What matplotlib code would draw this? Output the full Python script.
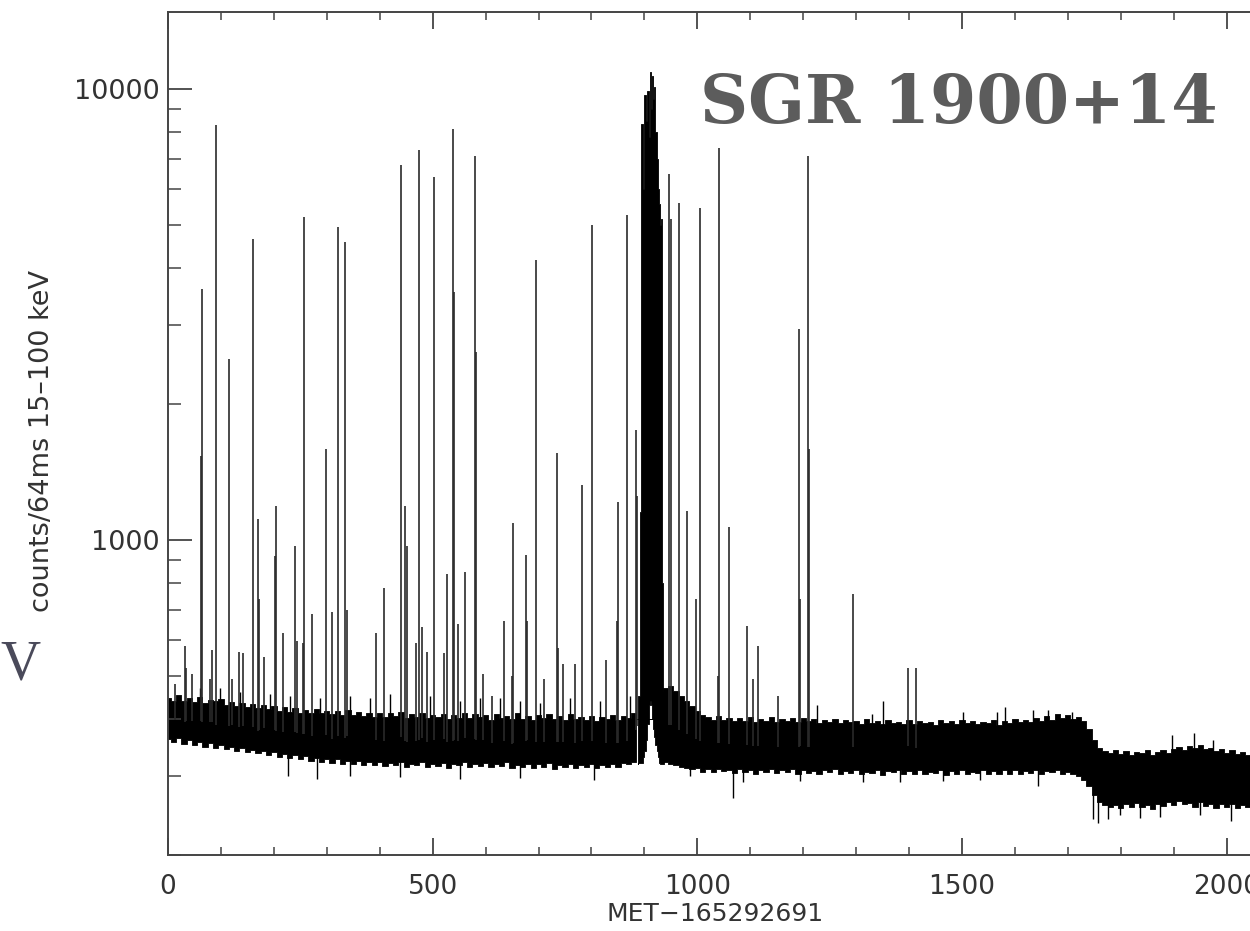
import numpy as np
import matplotlib
matplotlib.use('Agg')
import matplotlib.pyplot as plt
from matplotlib.ticker import FixedLocator, NullFormatter, FixedFormatter

# ---------------- data ----------------
band_t = list(range(0, 2101, 10))
band_hi = [445, 438, 452, 440, 446, 436, 448, 434, 442, 438, 444, 430, 437, 428, 435, 426, 433, 424, 430, 421,
           427, 418, 425, 416, 423, 414, 420, 412, 422, 413, 418, 410, 417, 409, 420, 408, 415, 406, 414, 405,
           412, 404, 414, 406, 416, 403, 411, 405, 413, 402, 409, 404, 411, 400, 408, 403, 414, 402, 410, 404,
           408, 399, 410, 402, 407, 400, 412, 401, 406, 398, 409, 403, 411, 400, 407, 399, 410, 401, 405, 398,
           406, 397, 404, 400, 409, 398, 406, 402, 414, 400, 400, 400, 400, 400, 470, 475, 462, 450, 440, 428,
           418, 408, 404, 398, 406, 399, 403, 396, 402, 397, 405, 395, 401, 396, 404, 394, 400, 397, 403, 395,
           402, 396, 400, 393, 398, 395, 401, 392, 399, 394, 397, 391, 400, 393, 396, 390, 398, 392, 395, 390,
           399, 391, 397, 393, 395, 389, 398, 392, 396, 390, 399, 393, 397, 390, 395, 392, 398, 389, 396, 393,
           400, 394, 398, 395, 403, 397, 406, 399, 410, 402, 408, 400, 404, 396, 380, 360, 345, 340, 336, 342,
           335, 340, 333, 339, 336, 342, 334, 338, 341, 336, 344, 347, 342, 349, 345, 350, 343, 346, 340, 344,
           337, 341, 335, 339, 333, 338, 335, 340, 334, 337, 336]
band_lo = [362, 356, 364, 352, 360, 350, 356, 348, 354, 345, 350, 344, 348, 340, 345, 338, 342, 336, 340, 334,
           338, 330, 335, 328, 333, 326, 331, 324, 329, 322, 327, 320, 326, 319, 324, 318, 323, 317, 322, 316,
           321, 315, 320, 317, 322, 314, 319, 316, 321, 313, 318, 315, 320, 312, 318, 316, 321, 313, 319, 315,
           320, 313, 318, 315, 321, 312, 317, 314, 319, 312, 318, 314, 320, 311, 316, 313, 319, 312, 317, 314,
           318, 312, 316, 313, 319, 314, 320, 318, 322, 400, 400, 400, 400, 400, 322, 318, 316, 314, 312, 310,
           312, 306, 310, 305, 311, 307, 309, 304, 310, 306, 308, 303, 309, 305, 311, 304, 308, 306, 310, 303,
           309, 304, 307, 302, 308, 305, 310, 303, 307, 304, 309, 302, 306, 304, 308, 301, 307, 305, 309, 302,
           307, 303, 309, 302, 306, 304, 308, 301, 307, 303, 309, 302, 306, 304, 308, 302, 307, 303, 309, 302,
           308, 303, 307, 304, 309, 302, 307, 305, 308, 303, 306, 302, 300, 294, 285, 272, 262, 258, 255, 258,
           254, 259, 256, 261, 255, 258, 253, 260, 257, 262, 258, 263, 259, 261, 256, 262, 257, 260, 254, 259,
           256, 260, 254, 258, 255, 259, 253, 257, 255, 258, 256]

burst_t = [887, 890, 892, 895, 898, 901, 904, 907, 910, 912, 914, 916,
           918, 920, 922, 924, 927, 929, 931, 933, 935, 937]
burst_hi = [420, 450, 1150, 8370, 6000, 9700, 8500, 9900, 7830, 10900, 9000,
            10700, 9500, 10100, 8000, 7000, 6000, 5560, 5000, 5150, 800, 460]
burst_lo = [318, 320, 320, 320, 330, 340, 360, 390, 430, 440, 430, 400,
            380, 365, 350, 340, 330, 320, 318, 318, 318, 318]

spike_t = [13, 32, 34, 45, 62, 64, 79, 83, 91, 115, 121, 134, 142, 161,
           170, 172, 181, 202, 204, 217, 240, 244, 255, 257, 272, 298,
           310, 321, 334, 338, 393, 408, 440, 448, 451, 468, 474, 480,
           489, 502, 521, 527, 538, 540, 548, 561, 580, 582, 595, 612,
           635, 650, 652, 676, 678, 695, 710, 735, 737, 746, 769, 782,
           801, 827, 848, 850, 867, 884, 886, 946, 950, 965, 980, 997,
           1005, 1039, 1041, 1060, 1094, 1105, 1115, 1152, 1192, 1194,
           1209, 1211, 1294, 1398, 1413]
spike_peak = [480, 582, 520, 505, 1530, 3600, 490, 570, 8300, 2520, 490,
              565, 560, 4640, 1110, 740, 550, 920, 1190, 620, 970, 595,
              590, 5200, 685, 1590, 690, 4940, 4580, 700, 620, 780, 6780,
              1190, 970, 590, 7320, 640, 565, 6380, 560, 840, 8150, 3540,
              650, 850, 7100, 2610, 505, 450, 660, 500, 1090, 923, 660,
              4180, 490, 1560, 575, 530, 530, 1320, 4990, 540, 660, 1210,
              5260, 1750, 1250, 6480, 5150, 5580, 1160, 740, 5440, 500,
              7400, 1070, 645, 490, 580, 450, 2940, 740, 7100, 1590, 760,
              520, 520]

whisk_up_t = [60, 98, 136, 193, 230, 287, 344, 382, 419, 495, 552, 589,
              627, 665, 703, 759, 816, 873, 1226, 1330, 1351, 1502, 1566,
              1581, 1634, 1662, 1708, 1897, 1938, 1974]
whisk_up_v = [470, 470, 460, 455, 450, 445, 450, 445, 455, 450, 440, 445,
              445, 440, 435, 445, 440, 450, 430, 410, 440, 415, 415,
              425, 420, 420, 415, 370, 372, 360]
whisk_dn_t = [227, 281, 344, 438, 552, 665, 805, 986, 1067, 1086, 1194,
              1313, 1383, 1464, 1534, 1643, 1747, 1757, 1776, 1798, 1836,
              1874, 1949, 2008]
whisk_dn_v = [300, 295, 300, 298, 295, 297, 293, 300, 267, 290, 292,
              290, 290, 292, 293, 285, 240, 236, 240, 245, 242,
              243, 245, 238]

x_major = [0, 500, 1000, 1500, 2000]
x_labels = ['0', '500', '1000', '1500', '2000']
y_major = [1000, 10000]
y_labels = ['1000', '10000']

# ---------------- figure ----------------
W, H = 1250, 931
fig = plt.figure(figsize=(W / 100, H / 100), dpi=100)
left, bottom, top = 168 / W, 1 - 855 / H, 1 - 12 / H
ax = fig.add_axes([left, bottom, 1.03 - left, top - bottom])
ax.set_yscale('log')
ax.set_xlim(0, 2115)
ax.set_ylim(200, 14800)

bt = np.array(band_t, float)
bh = np.array(band_hi, float)
bl = np.array(band_lo, float)
mid = np.sqrt(bh * bl)

# background band
ax.fill_between(bt, bl, bh, step='mid', color='black', lw=0.6, edgecolor='black')
# whiskers
ax.vlines(whisk_up_t, np.interp(whisk_up_t, bt, mid), whisk_up_v, color='black', lw=1.0)
ax.vlines(whisk_dn_t, whisk_dn_v, np.interp(whisk_dn_t, bt, mid), color='black', lw=1.0)
# main burst
ax.fill_between(burst_t, burst_lo, burst_hi, step='mid', color='black', lw=0.6, edgecolor='black')
# short bursts
ax.vlines(spike_t, np.interp(spike_t, bt, mid), spike_peak, color='#2a2a2a', lw=1.2)

# axes styling
for s in ['left', 'bottom', 'top']:
    ax.spines[s].set_color('#444444')
    ax.spines[s].set_linewidth(1.4)
ax.spines['right'].set_visible(False)

ax.xaxis.set_major_locator(FixedLocator(x_major))
ax.xaxis.set_major_formatter(FixedFormatter(x_labels))
ax.xaxis.set_minor_locator(FixedLocator(list(range(0, 2101, 100))))
ax.yaxis.set_major_locator(FixedLocator(y_major))
ax.yaxis.set_major_formatter(FixedFormatter(y_labels))
ax.yaxis.set_minor_locator(FixedLocator([k * 100 for k in range(2, 10)] + [k * 1000 for k in range(2, 10)]))
ax.yaxis.set_minor_formatter(NullFormatter())

ax.tick_params(axis='x', which='major', direction='in', length=12, width=1.3, color='#444444',
               top=True, pad=14, labelsize=19, labelcolor='#333333')
ax.tick_params(axis='x', which='minor', direction='in', length=6, width=1.1, color='#444444', top=True)
ax.tick_params(axis='y', which='major', direction='in', length=17, width=1.3, color='#444444',
               right=False, pad=6, labelsize=19.5, labelcolor='#333333')
ax.tick_params(axis='y', which='minor', direction='in', length=9, width=1.1, color='#444444', right=False)

fig.text(715 / W, 1 - 914 / H, 'MET\u2212165292691', ha='center', va='center',
         fontsize=18, color='#333333')
fig.text(42 / W, 1 - 441 / H, 'counts/64ms 15\u2013100 keV', ha='center', va='center',
         rotation=90, fontsize=19.5, color='#333333')

fig.text(700 / W, 1 - 123 / H, 'SGR 1900+14', ha='left', va='baseline',
         fontsize=48, fontweight='bold', color='#5c5c5c',
         family=['DejaVu Serif'])
fig.text(0 / W, 1 - 680 / H, 'V', ha='left', va='baseline', fontsize=40,
         color='#4a4a5a', family=['Liberation Serif', 'DejaVu Serif'])

fig.savefig('out.png', dpi=100)
